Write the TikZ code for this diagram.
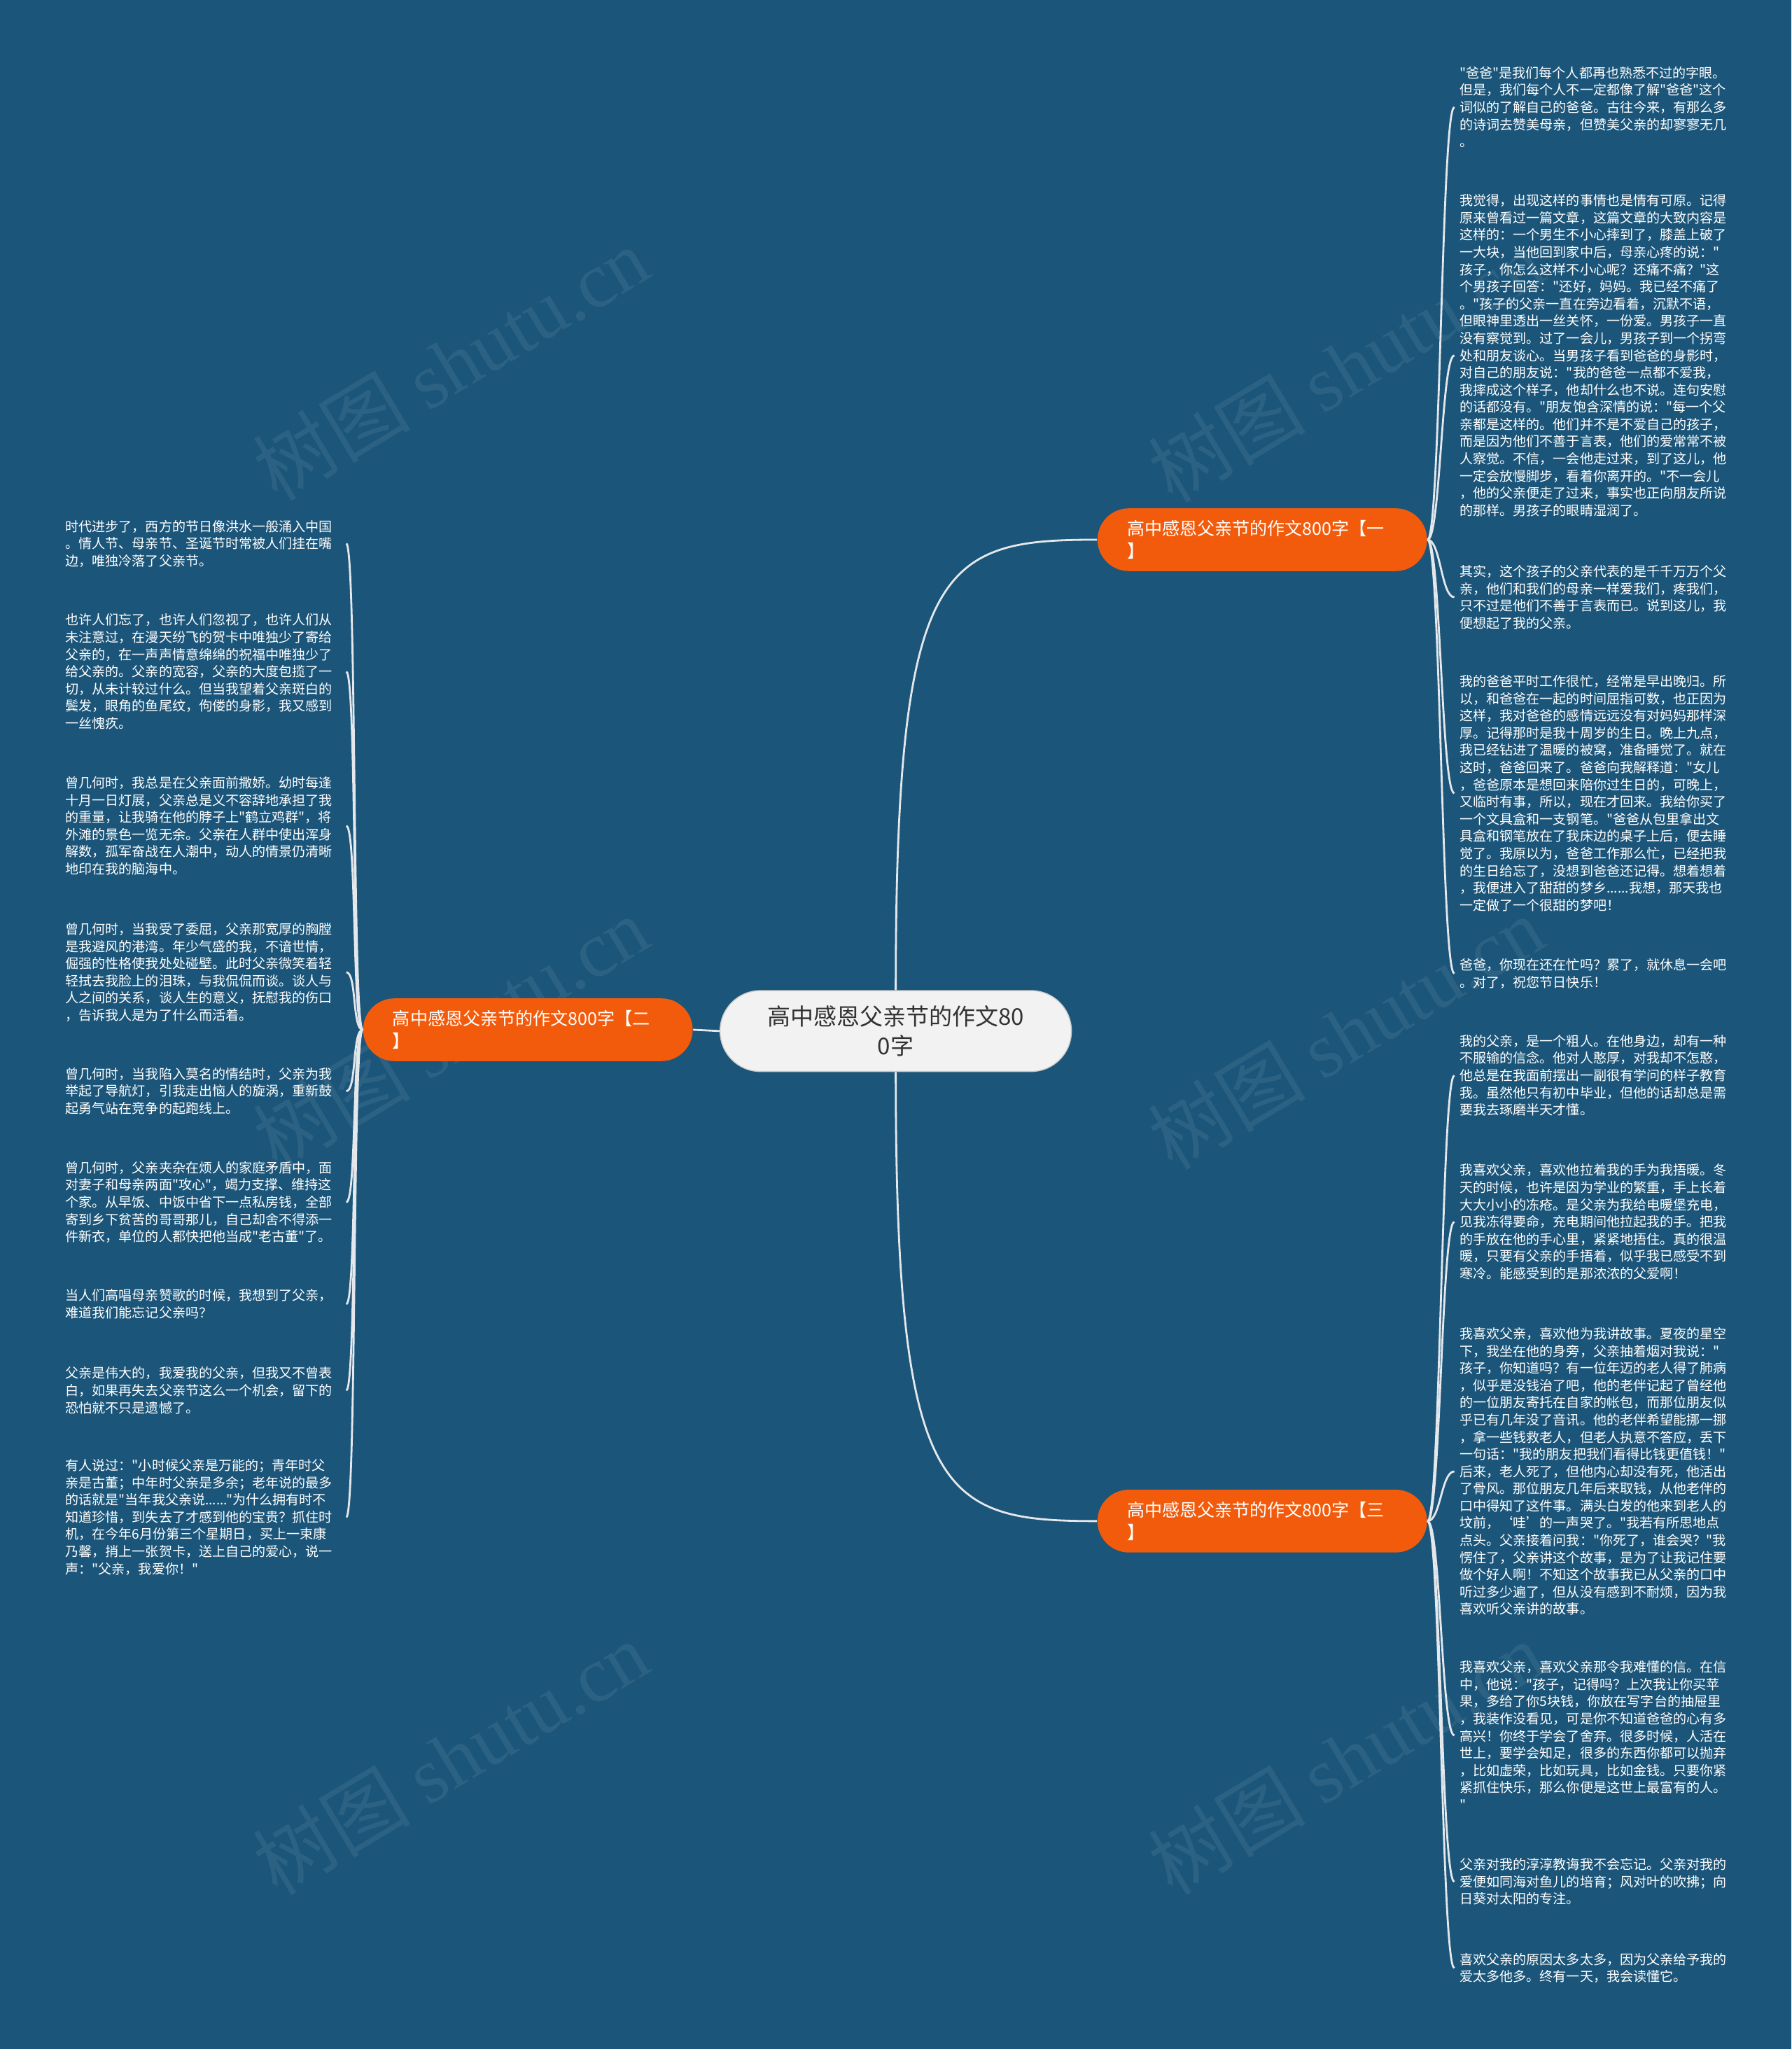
\documentclass[tikz,border=0pt]{standalone}
\usepackage{fontspec}
\setmainfont{Noto Sans CJK SC}
\newfontfamily\cjkfont{Noto Sans CJK SC}
\newfontfamily\wmfont{Liberation Serif}
\definecolor{bgblue}{HTML}{1B5579}
\definecolor{topicorange}{HTML}{F35B0C}
\definecolor{rootgray}{HTML}{F2F2F2}
\definecolor{linkgray}{HTML}{E4E8EC}
\tikzset{
    rootbox/.style={fill=rootgray, draw=gray!40, rounded corners=16.4pt, minimum width=142.9pt, minimum height=32.9pt, align=center, text=black!80, font=\cjkfont\fontsize{9.4pt}{12.2pt}\selectfont},
    topicbox/.style={fill=topicorange, rounded corners=12.7pt, minimum height=25.5pt, text width=110pt, inner xsep=12pt, align=left, text=white, font=\cjkfont\fontsize{7.14pt}{9pt}\selectfont},
    leafbox/.style={text width=112pt, inner xsep=2pt, inner ysep=1pt, align=left, text=white, font=\cjkfont\fontsize{5.43pt}{7pt}\selectfont},
    rleaf/.style={leafbox, anchor=west},
    lleaf/.style={leafbox, anchor=east},
    linkline/.style={draw=linkgray, line width=0.8pt},
    wmark/.style={text=white, opacity=0.07, rotate=31, font=\fontsize{32pt}{36pt}\selectfont}
}
\begin{document}
\begin{tikzpicture}[x=0.018672cm, y=-0.018672cm]
        % background
            \useasboundingbox (0,0) rectangle (1371,1568);
            \fill[bgblue] (0,0) rectangle (1371,1568);
            \foreach \x/\y [count=\i] in {345/278,1030/280,345/790,1030/790,345/1345,1030/1345}{
                \node[wmark] (wm\i) at (\x,\y) {{\cjkfont 树图} {\wmfont shutu.cn}};
            }
        % main topics
            \node[rootbox] (root) at (685.5,789) {高中感恩父亲节的作文80\\0字};
            \node[topicbox] (t1) at (966,413) {高中感恩父亲节的作文800字【一\\】};
            \node[topicbox] (t2) at (404,788) {高中感恩父亲节的作文800字【二\\】};
            \node[topicbox] (t3) at (966,1164) {高中感恩父亲节的作文800字【三\\】};
        % details of the first topic
            \node[rleaf] (r1) at (1113,82) {"爸爸"是我们每个人都再也熟悉不过的字眼。\\但是，我们每个人不一定都像了解"爸爸"这个\\词似的了解自己的爸爸。古往今来，有那么多\\的诗词去赞美母亲，但赞美父亲的却寥寥无几\\。};
            \node[rleaf] (r2) at (1113,272) {我觉得，出现这样的事情也是情有可原。记得\\原来曾看过一篇文章，这篇文章的大致内容是\\这样的：一个男生不小心摔到了，膝盖上破了\\一大块，当他回到家中后，母亲心疼的说："\\孩子，你怎么这样不小心呢？还痛不痛？"这\\个男孩子回答："还好，妈妈。我已经不痛了\\。"孩子的父亲一直在旁边看着，沉默不语，\\但眼神里透出一丝关怀，一份爱。男孩子一直\\没有察觉到。过了一会儿，男孩子到一个拐弯\\处和朋友谈心。当男孩子看到爸爸的身影时，\\对自己的朋友说："我的爸爸一点都不爱我，\\我摔成这个样子，他却什么也不说。连句安慰\\的话都没有。"朋友饱含深情的说："每一个父\\亲都是这样的。他们并不是不爱自己的孩子，\\而是因为他们不善于言表，他们的爱常常不被\\人察觉。不信，一会他走过来，到了这儿，他\\一定会放慢脚步，看着你离开的。"不一会儿\\，他的父亲便走了过来，事实也正向朋友所说\\的那样。男孩子的眼睛湿润了。};
            \node[rleaf] (r3) at (1113,457) {其实，这个孩子的父亲代表的是千千万万个父\\亲，他们和我们的母亲一样爱我们，疼我们，\\只不过是他们不善于言表而已。说到这儿，我\\便想起了我的父亲。};
            \node[rleaf] (r4) at (1113,607) {我的爸爸平时工作很忙，经常是早出晚归。所\\以，和爸爸在一起的时间屈指可数，也正因为\\这样，我对爸爸的感情远远没有对妈妈那样深\\厚。记得那时是我十周岁的生日。晚上九点，\\我已经钻进了温暖的被窝，准备睡觉了。就在\\这时，爸爸回来了。爸爸向我解释道："女儿\\，爸爸原本是想回来陪你过生日的，可晚上，\\又临时有事，所以，现在才回来。我给你买了\\一个文具盒和一支钢笔。"爸爸从包里拿出文\\具盒和钢笔放在了我床边的桌子上后，便去睡\\觉了。我原以为，爸爸工作那么忙，已经把我\\的生日给忘了，没想到爸爸还记得。想着想着\\，我便进入了甜甜的梦乡......我想，那天我也\\一定做了一个很甜的梦吧！};
            \node[rleaf] (r5) at (1113,745) {爸爸，你现在还在忙吗？累了，就休息一会吧\\。对了，祝您节日快乐！};
        % details of the third topic
            \node[rleaf] (r6) at (1113,823) {我的父亲，是一个粗人。在他身边，却有一种\\不服输的信念。他对人憨厚，对我却不怎憨，\\他总是在我面前摆出一副很有学问的样子教育\\我。虽然他只有初中毕业，但他的话却总是需\\要我去琢磨半天才懂。};
            \node[rleaf] (r7) at (1113,935) {我喜欢父亲，喜欢他拉着我的手为我捂暖。冬\\天的时候，也许是因为学业的繁重，手上长着\\大大小小的冻疮。是父亲为我给电暖堡充电，\\见我冻得要命，充电期间他拉起我的手。把我\\的手放在他的手心里，紧紧地捂住。真的很温\\暖，只要有父亲的手捂着，似乎我已感受不到\\寒冷。能感受到的是那浓浓的父爱啊！};
            \node[rleaf] (r8) at (1113,1126) {我喜欢父亲，喜欢他为我讲故事。夏夜的星空\\下，我坐在他的身旁，父亲抽着烟对我说："\\孩子，你知道吗？有一位年迈的老人得了肺病\\，似乎是没钱治了吧，他的老伴记起了曾经他\\的一位朋友寄托在自家的帐包，而那位朋友似\\乎已有几年没了音讯。他的老伴希望能挪一挪\\，拿一些钱救老人，但老人执意不答应，丢下\\一句话："我的朋友把我们看得比钱更值钱！"\\后来，老人死了，但他内心却没有死，他活出\\了骨风。那位朋友几年后来取钱，从他老伴的\\口中得知了这件事。满头白发的他来到老人的\\坟前，‘哇’的一声哭了。"我若有所思地点\\点头。父亲接着问我："你死了，谁会哭？"我\\愣住了，父亲讲这个故事，是为了让我记住要\\做个好人啊！不知这个故事我已从父亲的口中\\听过多少遍了，但从没有感到不耐烦，因为我\\喜欢听父亲讲的故事。};
            \node[rleaf] (r9) at (1113,1328) {我喜欢父亲，喜欢父亲那令我难懂的信。在信\\中，他说："孩子，记得吗？上次我让你买苹\\果，多给了你5块钱，你放在写字台的抽屉里\\，我装作没看见，可是你不知道爸爸的心有多\\高兴！你终于学会了舍弃。很多时候，人活在\\世上，要学会知足，很多的东西你都可以抛弃\\，比如虚荣，比如玩具，比如金钱。只要你紧\\紧抓住快乐，那么你便是这世上最富有的人。\\"};
            \node[rleaf] (r10) at (1113,1440) {父亲对我的淳淳教诲我不会忘记。父亲对我的\\爱便如同海对鱼儿的培育；风对叶的吹拂；向\\日葵对太阳的专注。};
            \node[rleaf] (r11) at (1113,1506) {喜欢父亲的原因太多太多，因为父亲给予我的\\爱太多他多。终有一天，我会读懂它。};
        % details of the second topic
            \node[lleaf] (l1) at (265,416) {时代进步了，西方的节日像洪水一般涌入中国\\。情人节、母亲节、圣诞节时常被人们挂在嘴\\边，唯独冷落了父亲节。};
            \node[lleaf] (l2) at (265,514) {也许人们忘了，也许人们忽视了，也许人们从\\未注意过，在漫天纷飞的贺卡中唯独少了寄给\\父亲的，在一声声情意绵绵的祝福中唯独少了\\给父亲的。父亲的宽容，父亲的大度包揽了一\\切，从未计较过什么。但当我望着父亲斑白的\\鬓发，眼角的鱼尾纹，佝偻的身影，我又感到\\一丝愧疚。};
            \node[lleaf] (l3) at (265,632) {曾几何时，我总是在父亲面前撒娇。幼时每逢\\十月一日灯展，父亲总是义不容辞地承担了我\\的重量，让我骑在他的脖子上"鹤立鸡群"，将\\外滩的景色一览无余。父亲在人群中使出浑身\\解数，孤军奋战在人潮中，动人的情景仍清晰\\地印在我的脑海中。};
            \node[lleaf] (l4) at (265,744) {曾几何时，当我受了委屈，父亲那宽厚的胸膛\\是我避风的港湾。年少气盛的我，不谙世情，\\倔强的性格使我处处碰壁。此时父亲微笑着轻\\轻拭去我脸上的泪珠，与我侃侃而谈。谈人与\\人之间的关系，谈人生的意义，抚慰我的伤口\\，告诉我人是为了什么而活着。};
            \node[lleaf] (l5) at (265,835) {曾几何时，当我陷入莫名的情结时，父亲为我\\举起了导航灯，引我走出恼人的旋涡，重新鼓\\起勇气站在竞争的起跑线上。};
            \node[lleaf] (l6) at (265,920) {曾几何时，父亲夹杂在烦人的家庭矛盾中，面\\对妻子和母亲两面"攻心"，竭力支撑、维持这\\个家。从早饭、中饭中省下一点私房钱，全部\\寄到乡下贫苦的哥哥那儿，自己却舍不得添一\\件新衣，单位的人都快把他当成"老古董"了。};
            \node[lleaf] (l7) at (265,998) {当人们高唱母亲赞歌的时候，我想到了父亲，\\难道我们能忘记父亲吗？};
            \node[lleaf] (l8) at (265,1064) {父亲是伟大的，我爱我的父亲，但我又不曾表\\白，如果再失去父亲节这么一个机会，留下的\\恐怕就不只是遗憾了。};
            \node[lleaf] (l9) at (265,1161) {有人说过："小时候父亲是万能的；青年时父\\亲是古董；中年时父亲是多余；老年说的最多\\的话就是"当年我父亲说......"为什么拥有时不\\知道珍惜，到失去了才感到他的宝贵？抓住时\\机，在今年6月份第三个星期日，买上一束康\\乃馨，捎上一张贺卡，送上自己的爱心，说一\\声："父亲，我爱你！"};
        % links
            \draw[linkline] (root.north) .. controls (685.5,430) and (720,413) .. (t1.west);
            \draw[linkline] (root.south) .. controls (685.5,1147) and (720,1164) .. (t3.west);
            \draw[linkline] (root.west) -- (t2.east);
            \foreach \i in {1,...,5}{
                \draw[linkline] (t1.east) .. controls +(10,0) and +(-10,0) .. (r\i.west);
            }
            \foreach \i in {6,...,11}{
                \draw[linkline] (t3.east) .. controls +(10,0) and +(-10,0) .. (r\i.west);
            }
            \foreach \i in {1,...,9}{
                \draw[linkline] (t2.west) .. controls +(-8,0) and +(8,0) .. (l\i.east);
            }
\end{tikzpicture}
\end{document}
